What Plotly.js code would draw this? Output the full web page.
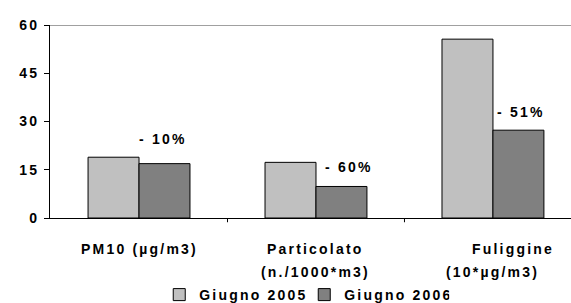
<!DOCTYPE html>
<html>
<head>
<meta charset="utf-8">
<script src="https://cdn.plot.ly/plotly-3.0.1.min.js"></script>
<style>
  html, body { margin: 0; padding: 0; background: #fff; }
  #chart { width: 571px; height: 303px; }
  svg text { letter-spacing: 2.2px; }
</style>
</head>
<body>
<div id="chart"></div>
<script>
const categories = [
  "PM10 (µg/m3)",
  "Particolato<br>(n./1000*m3)",
  "Fuliggine<br>(10*µg/m3)"
];
const seriesNames = ["Giugno 2005", "Giugno 2006"];
const values2005 = [18.9, 17.3, 55.6];
const values2006 = [16.9, 9.8, 27.3];
const changeLabels = ["- 10%", "- 60%", "- 51%"];
const changeY = [24.7, 15.9, 33.1];
const yTicks = [0, 15, 30, 45, 60];

// layout-only helpers (positions, not data)
const changeXOffset = [0.136, 0.184, 0.161];
const firstLineShift = [0, 0, 20];
const lineY = [-0.161, -0.280];

const catIdx = categories.map((c, i) => i);
const font = { family: "Arial", size: 14, color: "#000", weight: "bold" };

const traces = [
  {
    type: "bar", name: seriesNames[0], x: catIdx, y: values2005,
    marker: { color: "#C0C0C0", line: { color: "#000", width: 1 } },
    hoverinfo: "none"
  },
  {
    type: "bar", name: seriesNames[1], x: catIdx, y: values2006,
    marker: { color: "#808080", line: { color: "#000", width: 1 } },
    hoverinfo: "none"
  }
];

const annotations = changeLabels.map((t, i) => ({
  text: t, x: catIdx[i] + changeXOffset[i], y: changeY[i],
  xref: "x", yref: "y", showarrow: false, font: font,
  xanchor: "center", yanchor: "middle"
}));
categories.forEach((c, i) => {
  c.split("<br>").forEach((line, j) => {
    annotations.push({
      text: line, x: catIdx[i], y: lineY[j], xref: "x", yref: "paper",
      xshift: j === 0 ? firstLineShift[i] : 0,
      showarrow: false, font: font, xanchor: "center", yanchor: "middle"
    });
  });
});

const layout = {
  width: 571, height: 303,
  margin: { l: 50, r: 0, t: 25, b: 85, autoexpand: false },
  paper_bgcolor: "#fff", plot_bgcolor: "#fff",
  font: font,
  barmode: "group", bargap: 0.424, bargroupgap: 0,
  showlegend: true,
  legend: {
    orientation: "h", x: 0.488, xanchor: "center", y: -0.399, yanchor: "middle",
    font: font, traceorder: "normal", itemwidth: 30, entrywidth: 100
  },
  xaxis: {
    type: "linear",
    range: [-0.503, 2.441],
    tickvals: catIdx, showticklabels: false,
    showgrid: false, zeroline: false,
    showline: true, linecolor: "#000", linewidth: 1,
    ticks: "", automargin: false
  },
  yaxis: {
    range: [0, 60],
    tickmode: "array", tickvals: yTicks, ticktext: yTicks.map(String),
    showgrid: false, zeroline: false,
    showline: true, linecolor: "#000", linewidth: 1,
    ticks: "outside", ticklen: 5, tickcolor: "#000", tickwidth: 1,
    tickfont: font, ticklabelstandoff: 2, automargin: false
  },
  shapes: [
    { type: "line", xref: "paper", yref: "y", x0: 0, x1: 1, y0: 60, y1: 60,
      line: { color: "#808080", width: 1.5 } }
  ].concat([0.5, 1.5].map(b => ({
    type: "line", xref: "x", yref: "paper", x0: b, x1: b, y0: 0, y1: -0.022,
    line: { color: "#000", width: 1 }
  }))),
  annotations: annotations
};

Plotly.newPlot("chart", traces, layout, { staticPlot: true, displayModeBar: false });
</script>
</body>
</html>
